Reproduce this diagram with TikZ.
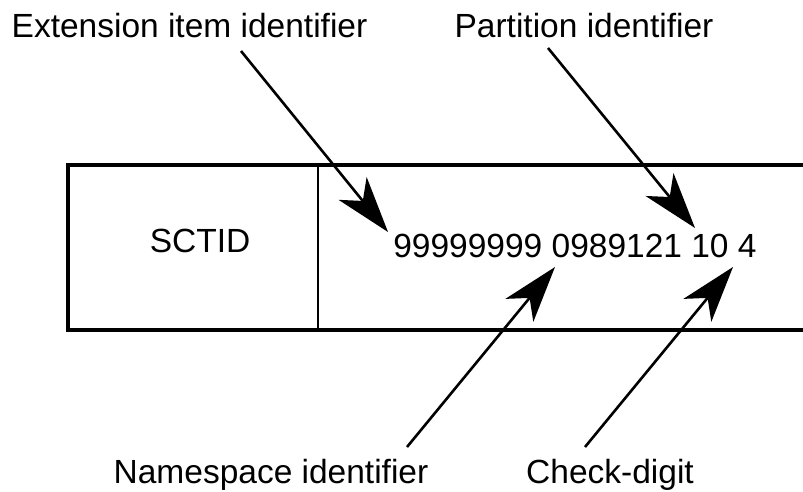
\documentclass[tikz,border=0pt]{standalone}
\usepackage{fontspec}
\setmainfont{Liberation Sans}
\usetikzlibrary{arrows.meta}

\begin{document}
\begin{tikzpicture}[
  x=1pt,y=-1pt,
  lbl/.style={font=\fontsize{33.5}{40}\selectfont,inner sep=0pt,anchor=base},
  frame/.style={line width=3.5pt,line join=miter},
  divider/.style={line width=1.4pt},
  pointer/.style={line width=2.6pt,-{Stealth[length=56pt,width=36pt,inset=16pt]}},
]
\useasboundingbox (0,0) rectangle (803,491);
\clip (0,0) rectangle (803,491);

% ----- record box -----
\draw[frame] (815,165) -- (68,165) -- (68,330) -- (815,330);
\draw[divider] (318,165) -- (318,330);
\node[lbl] (sctid) at (200,252) {SCTID};
\node[lbl] (code) at (575,257) {99999999 0989121 10 4};

% ----- labels -----
\node[lbl] (ext)  at (189.5,37) {Extension item identifier};
\node[lbl] (part) at (584,37)   {Partition identifier};
\node[lbl] (ns)   at (271,483)  {Namespace identifier};
\node[lbl] (chk)  at (610,483)  {Check-digit};

% ----- arrow ends -----
\coordinate (ext-from)  at (241,51);
\coordinate (ext-to)    at (388,232);
\coordinate (part-from) at (548,48);
\coordinate (part-to)   at (695,228);
\coordinate (ns-from)   at (407,447);
\coordinate (ns-to)     at (555,267);
\coordinate (chk-from)  at (585,447);
\coordinate (chk-to)    at (733,267);

\draw[pointer] (ext-from)  -- (ext-to);
\draw[pointer] (part-from) -- (part-to);
\draw[pointer] (ns-from)   -- (ns-to);
\draw[pointer] (chk-from)  -- (chk-to);

\end{tikzpicture}
\end{document}
